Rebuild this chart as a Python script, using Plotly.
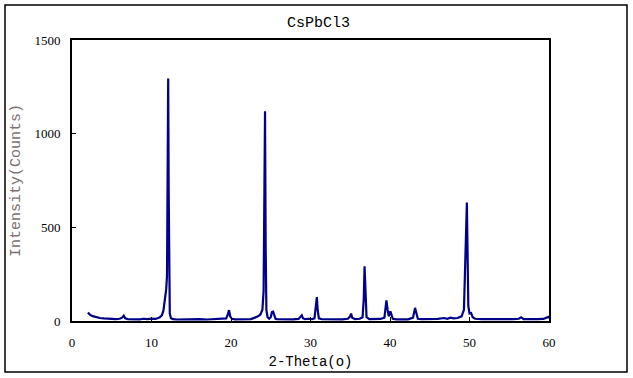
import plotly.graph_objects as go

title_text = "CsPbCl3"
x_title = "2-Theta(o)"
y_title = "Intensity(Counts)"
x_ticks = [0, 10, 20, 30, 40, 50, 60]
y_ticks = [0, 500, 1000, 1500]

two_theta = [
    2.0, 2.1, 2.3, 2.6, 3.0, 3.5, 4.0, 4.5, 5.0, 5.5,
    6.0, 6.3, 6.5, 6.7, 7.0, 7.5, 8.0, 8.5, 9.0, 9.5,
    10.0, 10.5, 11.0, 11.3, 11.5, 11.7, 11.85, 11.95, 12.02, 12.1,
    12.16, 12.22, 12.3, 12.45, 12.7, 13.2, 14.0, 15.0, 16.0, 17.0,
    18.0, 18.8, 19.4, 19.6, 19.75, 19.9, 20.1, 20.5, 21.0, 21.5,
    22.0, 22.5, 23.0, 23.4, 23.7, 23.95, 24.1, 24.2, 24.28, 24.36,
    24.45, 24.6, 24.8, 25.0, 25.15, 25.3, 25.45, 25.6, 25.8, 26.2,
    27.0, 27.8, 28.5, 28.8, 28.9, 29.05, 29.3, 29.8, 30.2, 30.5,
    30.7, 30.8, 30.9, 31.05, 31.4, 32.0, 33.0, 34.0, 34.7, 35.0,
    35.1, 35.25, 35.6, 36.2, 36.55, 36.7, 36.8, 36.9, 37.05, 37.4,
    38.0, 38.8, 39.3, 39.55, 39.7, 39.85, 40.05, 40.15, 40.35, 40.8,
    41.5, 42.3, 42.9, 43.15, 43.3, 43.5, 44.0, 45.0, 46.0, 46.8,
    47.2, 47.6, 48.0, 48.5, 49.0, 49.3, 49.5, 49.6, 49.67, 49.75,
    49.85, 50.0, 50.2, 50.4, 50.7, 51.5, 52.5, 53.5, 54.5, 55.5,
    56.2, 56.5, 56.8, 57.5, 58.5, 59.3, 59.7, 59.9, 60.0,
]

intensity = [
    45, 40, 32, 26, 20, 16, 14, 12, 11, 10,
    12, 18, 28, 14, 10, 9, 11, 9, 12, 10,
    13, 11, 18, 30, 55, 110, 170, 240, 850, 1295,
    700, 150, 40, 15, 10, 8, 9, 8, 10, 8,
    10, 11, 14, 35, 58, 25, 12, 9, 10, 8,
    12, 10, 18, 25, 35, 60, 160, 650, 1120, 400,
    60, 20, 12, 20, 48, 50, 35, 12, 10, 9,
    10, 9, 11, 22, 30, 15, 10, 12, 10, 14,
    90, 128, 60, 14, 10, 9, 10, 9, 12, 25,
    40, 18, 10, 12, 20, 120, 292, 150, 20, 10,
    9, 11, 18, 110, 60, 25, 52, 40, 12, 9,
    10, 9, 18, 70, 45, 12, 10, 9, 11, 16,
    12, 18, 14, 16, 25, 60, 300, 520, 632, 300,
    80, 40, 42, 20, 12, 10, 9, 10, 9, 10,
    12, 20, 10, 9, 10, 11, 18, 22, 15,
]

fig = go.Figure()
fig.add_trace(go.Scatter(
    x=two_theta, y=intensity, mode="lines",
    line=dict(color="#000088", width=2.2),
    showlegend=False, hoverinfo="skip",
))

W, H = 633, 378
L, R, T, B = 72, 84, 40, 57
pw, ph = W - L - R, H - T - B

def px(xp):
    return (xp - L) / pw

def py(yp):
    return (H - B - yp) / ph

fig.update_layout(
    width=W, height=H,
    margin=dict(l=L, r=R, t=T, b=B),
    paper_bgcolor="white", plot_bgcolor="white",
    title=dict(text=title_text, x=px(312), xanchor="center",
               y=1 - 22 / H, yanchor="middle",
               font=dict(family="Liberation Mono", size=15, color="black")),
    shapes=[dict(type="rect", xref="paper", yref="paper",
                 x0=px(5), x1=px(627), y0=py(372), y1=py(5),
                 line=dict(color="black", width=1.5), fillcolor="rgba(0,0,0,0)",
                 layer="below")],
)

fig.update_xaxes(
    range=[0, 60], tickvals=x_ticks, ticktext=[str(v) for v in x_ticks],
    ticks="inside", ticklen=4, tickcolor="black", tickwidth=1,
    showline=True, linecolor="black", linewidth=2, mirror=True,
    showgrid=False, zeroline=False, ticklabelstandoff=8,
    tickfont=dict(family="Liberation Serif", size=13, color="black"),
    title=dict(text=x_title, standoff=8,
               font=dict(family="Liberation Mono", size=14, color="black")),
)
fig.update_yaxes(
    range=[0, 1500], tickvals=y_ticks, ticktext=[str(v) for v in y_ticks],
    ticks="inside", ticklen=4, tickcolor="black", tickwidth=1,
    showline=True, linecolor="black", linewidth=2, mirror=True,
    showgrid=False, zeroline=False, ticklabelstandoff=7,
    tickfont=dict(family="Liberation Serif", size=13, color="black"),
    title=dict(text=y_title, standoff=10,
               font=dict(family="Liberation Mono", size=15, color="#7a7070")),
)

fig.write_html("out.html", config={"displayModeBar": False},
               post_script="document.body.style.margin='0px';")
